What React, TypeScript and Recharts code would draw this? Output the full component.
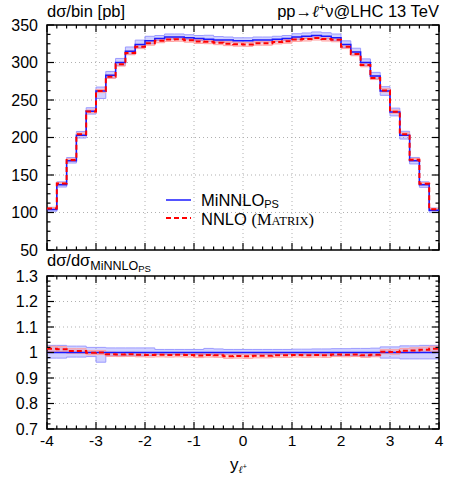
import { ComposedChart, Area, Line, XAxis, YAxis, CartesianGrid, ReferenceArea } from "recharts";

// ── Data ─────────────────────────────────────────────────────────────────────

const binEdges = [
  -4, -3.8, -3.6, -3.4, -3.2, -3, -2.8, -2.6, -2.4, -2.2, -2, -1.8, -1.6, -1.4, -1.2, -1, -0.8, -0.6, -0.4, -0.2,
  0, 0.2, 0.4, 0.6, 0.8, 1, 1.2, 1.4, 1.6, 1.8, 2, 2.2, 2.4, 2.6, 2.8, 3, 3.2, 3.4, 3.6, 3.8, 4,
];

// MiNNLO_PS central value per bin [pb]
const minnlo = [
  104, 137, 169, 203, 235, 262, 283, 300, 315, 324, 329, 332, 334, 334, 333, 332, 331, 330, 330, 329,
  329, 330, 330, 331, 332, 334, 335, 336, 335, 333, 324, 314, 300, 282, 262, 234, 203, 169, 137, 103,
];

// NNLO (MATRIX) central value per bin [pb]
const nnlo = [
  105.5, 138.8, 170.0, 204.2, 234.8, 262.0, 281.0, 297.6, 312.8, 321.1, 325.7, 329.0, 330.7, 331.0, 329.7, 328.0, 327.7, 326.4, 325.1, 324.4,
  324.1, 325.7, 325.7, 327.4, 328.3, 330.7, 331.3, 332.6, 331.3, 330.3, 321.1, 311.5, 296.7, 279.5, 262.8, 234.5, 204.4, 170.4, 138.5, 104.5,
];

// MiNNLO_PS scale band, relative to its central value
const minnloHi = [
  1.028, 1.028, 1.025, 1.025, 1.02, 1.02, 1.018, 1.018, 1.018, 1.018, 1.018, 1.012, 1.012, 1.012, 1.012, 1.012, 1.016, 1.014, 1.012, 1.012,
  1.012, 1.012, 1.012, 1.012, 1.012, 1.013, 1.013, 1.014, 1.014, 1.015, 1.015, 1.016, 1.016, 1.017, 1.022, 1.022, 1.026, 1.026, 1.028, 1.028,
];
const minnloLo = [
  0.978, 0.978, 0.982, 0.982, 0.984, 0.962, 0.987, 0.987, 0.987, 0.987, 0.988, 0.992, 0.992, 0.992, 0.992, 0.992, 0.992, 0.992, 0.992, 0.992,
  0.992, 0.992, 0.992, 0.992, 0.992, 0.991, 0.991, 0.99, 0.99, 0.988, 0.988, 0.987, 0.986, 0.986, 0.978, 0.978, 0.975, 0.975, 0.975, 0.975,
];

// NNLO scale band, relative half width
const nnloErr = [
  0.01, 0.01, 0.009, 0.009, 0.008, 0.008, 0.008, 0.008, 0.008, 0.008, 0.008, 0.008, 0.008, 0.008, 0.008, 0.008, 0.008, 0.008, 0.008, 0.008,
  0.008, 0.008, 0.008, 0.008, 0.008, 0.008, 0.008, 0.008, 0.008, 0.008, 0.008, 0.008, 0.008, 0.008, 0.008, 0.009, 0.009, 0.01, 0.01, 0.01,
];

const xMajor = [-4, -3, -2, -1, 0, 1, 2, 3, 4];
const xMinor = binEdges;
const topYMajor = [50, 100, 150, 200, 250, 300, 350];
const topYMinor = [50, 62.5, 75, 87.5, 100, 112.5, 125, 137.5, 150, 162.5, 175, 187.5, 200, 212.5, 225, 237.5, 250, 262.5, 275, 287.5, 300, 312.5, 325, 337.5, 350];
const ratioYMajor = [0.7, 0.8, 0.9, 1, 1.1, 1.2, 1.3];
const ratioYMinor = [
  0.7, 0.72, 0.74, 0.76, 0.78, 0.8, 0.82, 0.84, 0.86, 0.88, 0.9, 0.92, 0.94, 0.96, 0.98, 1,
  1.02, 1.04, 1.06, 1.08, 1.1, 1.12, 1.14, 1.16, 1.18, 1.2, 1.22, 1.24, 1.26, 1.28, 1.3,
];

// ── Rows (step data, last edge repeats last bin) ────────────────────────────

const last = minnlo.length - 1;
const topRows = binEdges.map((x, i) => {
  const k = Math.min(i, last);
  return {
    x,
    minnlo: minnlo[k],
    nnlo: nnlo[k],
    mBand: [minnlo[k] * minnloLo[k], minnlo[k] * minnloHi[k]],
    nBand: [nnlo[k] * (1 - nnloErr[k]), nnlo[k] * (1 + nnloErr[k])],
  };
});
const ratioRows = binEdges.map((x, i) => {
  const k = Math.min(i, last);
  const r = nnlo[k] / minnlo[k];
  return {
    x,
    one: 1,
    nnlo: r,
    mBand: [minnloLo[k], minnloHi[k]],
    nBand: [r - nnloErr[k], r + nnloErr[k]],
  };
});

// ── Layout ───────────────────────────────────────────────────────────────────

const W = 458;
const PLOT_L = 47;
const PLOT_R = 439;
const PLOT_W = PLOT_R - PLOT_L;
const TOP_H = 225; // 25 → 250
const RAT_H = 153; // 276 → 429

const FONT = "'Liberation Sans', Arial, Helvetica, sans-serif";
const SERIF = "'Liberation Serif', 'DejaVu Serif', serif";
const BLUE = "#1a1aff";
const RED = "#ff0000";

const isIn = (v: number, list: number[]) => list.some((m) => Math.abs(m - v) < 1e-6);

function makeXTick(plotH: number, labels: boolean) {
  return (p: any) => {
    const v = p.payload.value;
    const len = isIn(v, xMajor) ? 7 : 3.5;
    return (
      <g>
        <line x1={p.x} x2={p.x} y1={p.y} y2={p.y - len} stroke="#000" strokeWidth={1.2} />
        <line x1={p.x} x2={p.x} y1={p.y - plotH} y2={p.y - plotH + len} stroke="#000" strokeWidth={1.2} />
        {labels && isIn(v, xMajor) && (
          <text x={p.x} y={p.y + 17} textAnchor="middle" fontFamily={FONT} fontSize={15.5} fill="#000">
            {v}
          </text>
        )}
      </g>
    );
  };
}

function makeYTick(major: number[]) {
  return (p: any) => {
    const v = p.payload.value;
    const isMaj = isIn(v, major);
    const len = isMaj ? 7 : 3.5;
    return (
      <g>
        <line x1={p.x} x2={p.x + len} y1={p.y} y2={p.y} stroke="#000" strokeWidth={1.2} />
        <line x1={p.x + PLOT_W} x2={p.x + PLOT_W - len} y1={p.y} y2={p.y} stroke="#000" strokeWidth={1.2} />
        {isMaj && (
          <text x={p.x - 9} y={p.y} dy="0.36em" textAnchor="end" fontFamily={FONT} fontSize={16} fill="#000">
            {Math.round(v * 10) / 10}
          </text>
        )}
      </g>
    );
  };
}

const gridProps = { stroke: "#b0b0b0", strokeDasharray: "1 3", strokeWidth: 1 };

function TopPanel() {
  return (
    <ComposedChart width={W} height={266} data={topRows} margin={{ top: 25, right: W - PLOT_R, bottom: 15, left: PLOT_L - 1 }}>
      <CartesianGrid {...gridProps} verticalValues={[-3, -2, -1, 0, 1, 2, 3]} horizontalValues={[100, 150, 200, 250, 300]} />
      <XAxis dataKey="x" type="number" domain={[-4, 4]} ticks={xMinor} interval={0} height={1} axisLine={false}
        tickLine={false} tickSize={0} tickMargin={0} tick={makeXTick(TOP_H, false)} allowDataOverflow />
      <YAxis type="number" domain={[50, 350]} ticks={topYMinor} interval={0} width={1} axisLine={false}
        tickLine={false} tickSize={0} tickMargin={0} tick={makeYTick(topYMajor)} allowDataOverflow />
      <Area dataKey="mBand" type="stepAfter" fill="#7a7aff" fillOpacity={0.35} stroke="#9a9aff" strokeWidth={1} isAnimationActive={false} />
      <Area dataKey="nBand" type="stepAfter" fill="#ff7a7a" fillOpacity={0.3} stroke="#ffa0a0" strokeWidth={1} isAnimationActive={false} />
      <Line dataKey="minnlo" type="stepAfter" stroke={BLUE} strokeWidth={1.5} dot={false} isAnimationActive={false} />
      <Line dataKey="nnlo" type="stepAfter" stroke={RED} strokeWidth={2} strokeDasharray="5 3" dot={false} isAnimationActive={false} />
      <ReferenceArea x1={-4} x2={4} y1={50} y2={350} fill="none" stroke="#000" strokeWidth={1.5} />
    </ComposedChart>
  );
}

function RatioPanel() {
  return (
    <ComposedChart width={W} height={226} data={ratioRows} margin={{ top: 20, right: W - PLOT_R, bottom: 52, left: PLOT_L - 1 }}>
      <CartesianGrid {...gridProps} verticalValues={[-3, -2, -1, 0, 1, 2, 3]} horizontalValues={[0.8, 0.9, 1.1, 1.2]} />
      <XAxis dataKey="x" type="number" domain={[-4, 4]} ticks={xMinor} interval={0} height={1} axisLine={false}
        tickLine={false} tickSize={0} tickMargin={0} tick={makeXTick(RAT_H, true)} allowDataOverflow />
      <YAxis type="number" domain={[0.7, 1.3]} ticks={ratioYMinor} interval={0} width={1} axisLine={false}
        tickLine={false} tickSize={0} tickMargin={0} tick={makeYTick(ratioYMajor)} allowDataOverflow />
      <Area dataKey="mBand" type="stepAfter" fill="#7a7aff" fillOpacity={0.35} stroke="#9a9aff" strokeWidth={1} isAnimationActive={false} />
      <Area dataKey="nBand" type="stepAfter" fill="#ff7a7a" fillOpacity={0.3} stroke="#ffa0a0" strokeWidth={1} isAnimationActive={false} />
      <Line dataKey="one" type="stepAfter" stroke={BLUE} strokeWidth={1.5} dot={false} isAnimationActive={false} />
      <Line dataKey="nnlo" type="stepAfter" stroke={RED} strokeWidth={2} strokeDasharray="5 3" dot={false} isAnimationActive={false} />
      <ReferenceArea x1={-4} x2={4} y1={0.7} y2={1.3} fill="none" stroke="#000" strokeWidth={1.5} />
    </ComposedChart>
  );
}

// ── Labels, legend ───────────────────────────────────────────────────────────

function Overlay() {
  return (
    <svg width={W} height={482} style={{ position: "absolute", left: 0, top: 0, pointerEvents: "none" }} fontFamily={FONT}>
      <text x={47} y={17} fontSize={16.5}>dσ/bin [pb]</text>
      <text x={439} y={17} fontSize={16.5} textAnchor="end">
        pp→<tspan fontStyle="italic" fontFamily={SERIF}>ℓ</tspan><tspan fontSize={11} dy={-6}>+</tspan><tspan dy={6}>ν@LHC 13 TeV</tspan>
      </text>
      <text x={47} y={266} fontSize={16.5}>
        dσ/dσ<tspan fontSize={12.5} dy={4}>MiNNLO</tspan><tspan fontSize={9.5} dy={2}>PS</tspan>
      </text>
      <text x={230} y={470} fontSize={17}>
        y<tspan fontSize={10} dy={3} fontStyle="italic" fontFamily={SERIF}>ℓ</tspan><tspan fontSize={7} dy={-4}>+</tspan>
      </text>
      {/* legend */}
      <line x1={166} x2={191} y1={200} y2={200} stroke={BLUE} strokeWidth={1.5} />
      <text x={201} y={206} fontSize={16.5}>
        MiNNLO<tspan fontSize={11} dy={2}>PS</tspan>
      </text>
      <line x1={166} x2={191} y1={218} y2={218} stroke={RED} strokeWidth={2} strokeDasharray="5 3" />
      <text x={201} y={225} fontSize={16.5}>
        NNLO <tspan fontFamily={SERIF}>(M</tspan>
        <tspan fontFamily={SERIF} fontSize={12.5}>ATRIX</tspan>
        <tspan fontFamily={SERIF}>)</tspan>
      </text>
    </svg>
  );
}

export default function App() {
  return (
    <div style={{ position: "absolute", left: 0, top: 0, width: W, height: 482, background: "#fff" }}>
      <div style={{ position: "absolute", left: 0, top: 0 }}>
        <TopPanel />
      </div>
      <div style={{ position: "absolute", left: 0, top: 256 }}>
        <RatioPanel />
      </div>
      <Overlay />
    </div>
  );
}
